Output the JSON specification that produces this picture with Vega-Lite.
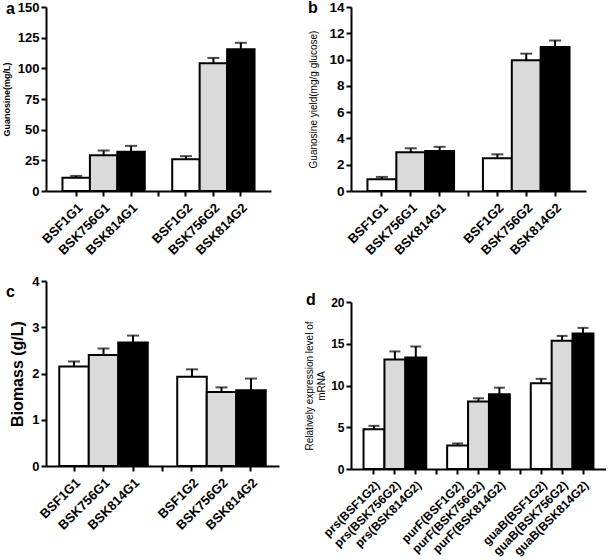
{
  "$schema": "https://vega.github.io/schema/vega-lite/v6.json",
  "padding": {"left": 2, "top": 0, "right": 0, "bottom": 0},
  "spacing": 25,
  "datasets": {
    "a": [
      {"k": "BSF1G1", "v": 10.9, "e": 12.3, "g": "F1"},
      {"k": "BSK756G1", "v": 29.2, "e": 33, "g": "K756"},
      {"k": "BSK814G1", "v": 31.9, "e": 36.8, "g": "K814"},
      {"k": "BSF1G2", "v": 25.9, "e": 28.4, "g": "F1"},
      {"k": "BSK756G2", "v": 104.2, "e": 108.5, "g": "K756"},
      {"k": "BSK814G2", "v": 115.5, "e": 120.8, "g": "K814"}
    ],
    "b": [
      {"k": "BSF1G1", "v": 0.89, "e": 1.07, "g": "F1"},
      {"k": "BSK756G1", "v": 2.95, "e": 3.25, "g": "K756"},
      {"k": "BSK814G1", "v": 3.05, "e": 3.36, "g": "K814"},
      {"k": "BSF1G2", "v": 2.49, "e": 2.79, "g": "F1"},
      {"k": "BSK756G2", "v": 9.95, "e": 10.45, "g": "K756"},
      {"k": "BSK814G2", "v": 10.95, "e": 11.45, "g": "K814"}
    ],
    "c": [
      {"k": "BSF1G1", "v": 2.15, "e": 2.26, "g": "F1"},
      {"k": "BSK756G1", "v": 2.4, "e": 2.54, "g": "K756"},
      {"k": "BSK814G1", "v": 2.67, "e": 2.82, "g": "K814"},
      {"k": "BSF1G2", "v": 1.93, "e": 2.09, "g": "F1"},
      {"k": "BSK756G2", "v": 1.6, "e": 1.7, "g": "K756"},
      {"k": "BSK814G2", "v": 1.64, "e": 1.89, "g": "K814"}
    ],
    "d": [
      {"k": "prs(BSF1G2)", "v": 4.77, "e": 5.17, "g": "F1"},
      {"k": "prs(BSK756G2)", "v": 13.1, "e": 14.08, "g": "K756"},
      {"k": "prs(BSK814G2)", "v": 13.36, "e": 14.67, "g": "K814"},
      {"k": "purF(BSF1G2)", "v": 2.82, "e": 3.06, "g": "F1"},
      {"k": "purF(BSK756G2)", "v": 8.07, "e": 8.47, "g": "K756"},
      {"k": "purF(BSK814G2)", "v": 8.95, "e": 9.74, "g": "K814"},
      {"k": "guaB(BSF1G2)", "v": 10.26, "e": 10.8, "g": "F1"},
      {"k": "guaB(BSK756G2)", "v": 15.35, "e": 15.94, "g": "K756"},
      {"k": "guaB(BSK814G2)", "v": 16.22, "e": 16.9, "g": "K814"}
    ]
  },
  "hconcat": [
    {
      "spacing": 17,
      "vconcat": [
        {
          "data": {"name": "a"},
          "width": 225,
          "height": 184,
          "title": {"text": "a", "anchor": "start", "frame": "group", "dx": -40, "dy": 20},
          "encoding": {
            "x": {"field": "k", "type": "nominal", "sort": null,
                  "scale": {"domain": ["BSF1G1", "BSK756G1", "BSK814G1", "gap1", "BSF1G2", "BSK756G2", "BSK814G2"], "paddingInner": 0, "paddingOuter": 0.6},
                  "axis": {"title": null, "labelFontSize": 13, "labelExpr": "indexof(datum.value, 'gap') == 0 ? '' : datum.value"}},
            "y": {"field": "v", "type": "quantitative",
                  "scale": {"domain": [0, 150], "nice": false},
                  "axis": {"title": "Guanosine(mg/L)", "values": [0, 25, 50, 75, 100, 125, 150], "labelFontSize": 13, "titleFontSize": 9, "titleFontWeight": "bold"}}
          },
          "layer": [
            {"mark": {"type": "bar", "stroke": "black", "strokeWidth": 2},
             "encoding": {"fill": {"field": "g", "type": "nominal", "legend": null,
                                   "scale": {"domain": ["F1", "K756", "K814"], "range": ["white", "#dadada", "black"]}}}},
            {"mark": {"type": "rule", "color": "black", "strokeWidth": 2},
             "encoding": {"y2": {"field": "e"}}},
            {"mark": {"type": "tick", "color": "black", "thickness": 2, "size": 12},
             "encoding": {"y": {"field": "e", "type": "quantitative", "title": "Guanosine(mg/L)"}}}
          ]
        },
        {
          "data": {"name": "c"},
          "width": 233,
          "height": 185,
          "title": {"text": "c", "anchor": "start", "frame": "group", "dx": -40, "dy": 29},
          "encoding": {
            "x": {"field": "k", "type": "nominal", "sort": null,
                  "scale": {"domain": ["BSF1G1", "BSK756G1", "BSK814G1", "gap1", "BSF1G2", "BSK756G2", "BSK814G2"], "paddingInner": 0, "paddingOuter": 0.45},
                  "axis": {"title": null, "labelFontSize": 13, "labelExpr": "indexof(datum.value, 'gap') == 0 ? '' : datum.value"}},
            "y": {"field": "v", "type": "quantitative",
                  "scale": {"domain": [0, 4], "nice": false},
                  "axis": {"title": "Biomass (g/L)", "values": [0, 1, 2, 3, 4], "labelFontSize": 13, "titleFontSize": 16, "titleFontWeight": "bold"}}
          },
          "layer": [
            {"mark": {"type": "bar", "stroke": "black", "strokeWidth": 2},
             "encoding": {"fill": {"field": "g", "type": "nominal", "legend": null,
                                   "scale": {"domain": ["F1", "K756", "K814"], "range": ["white", "#dadada", "black"]}}}},
            {"mark": {"type": "rule", "color": "black", "strokeWidth": 2},
             "encoding": {"y2": {"field": "e"}}},
            {"mark": {"type": "tick", "color": "black", "thickness": 2, "size": 12},
             "encoding": {"y": {"field": "e", "type": "quantitative", "title": "Biomass (g/L)"}}}
          ]
        }
      ]
    },
    {
      "spacing": 34,
      "vconcat": [
        {
          "data": {"name": "b"},
          "width": 235,
          "height": 184,
          "title": {"text": "b", "anchor": "start", "frame": "group", "dx": -43, "dy": 20},
          "encoding": {
            "x": {"field": "k", "type": "nominal", "sort": null,
                  "scale": {"domain": ["BSF1G1", "BSK756G1", "BSK814G1", "gap1", "BSF1G2", "BSK756G2", "BSK814G2"], "paddingInner": 0, "paddingOuter": 0.57},
                  "axis": {"title": null, "labelFontSize": 13, "labelExpr": "indexof(datum.value, 'gap') == 0 ? '' : datum.value"}},
            "y": {"field": "v", "type": "quantitative",
                  "scale": {"domain": [0, 14], "nice": false},
                  "axis": {"title": "Guanosine yield(mg/g glucose)", "values": [0, 2, 4, 6, 8, 10, 12, 14], "labelFontSize": 13.5, "titleFontSize": 10, "titleFontWeight": "normal", "titlePadding": 10}}
          },
          "layer": [
            {"mark": {"type": "bar", "stroke": "black", "strokeWidth": 2},
             "encoding": {"fill": {"field": "g", "type": "nominal", "legend": null,
                                   "scale": {"domain": ["F1", "K756", "K814"], "range": ["white", "#dadada", "black"]}}}},
            {"mark": {"type": "rule", "color": "black", "strokeWidth": 2},
             "encoding": {"y2": {"field": "e"}}},
            {"mark": {"type": "tick", "color": "black", "thickness": 2, "size": 12},
             "encoding": {"y": {"field": "e", "type": "quantitative", "title": "Guanosine yield(mg/g glucose)"}}}
          ]
        },
        {
          "data": {"name": "d"},
          "width": 255,
          "height": 167,
          "title": {"text": "d", "anchor": "start", "frame": "group", "dx": -45, "dy": 16},
          "encoding": {
            "x": {"field": "k", "type": "nominal", "sort": null,
                  "scale": {"domain": ["prs(BSF1G2)", "prs(BSK756G2)", "prs(BSK814G2)", "gap1", "purF(BSF1G2)", "purF(BSK756G2)", "purF(BSK814G2)", "gap2", "guaB(BSF1G2)", "guaB(BSK756G2)", "guaB(BSK814G2)"], "paddingInner": 0, "paddingOuter": 0.6},
                  "axis": {"title": null, "labelFontSize": 12, "labelExpr": "indexof(datum.value, 'gap') == 0 ? '' : datum.value"}},
            "y": {"field": "v", "type": "quantitative",
                  "scale": {"domain": [0, 20], "nice": false},
                  "axis": {"title": ["Relatively expression level of", "mRNA"], "values": [0, 5, 10, 15, 20], "labelFontSize": 12, "titleFontSize": 10, "titleFontWeight": "normal", "titlePadding": 4}}
          },
          "layer": [
            {"mark": {"type": "bar", "stroke": "black", "strokeWidth": 2},
             "encoding": {"fill": {"field": "g", "type": "nominal", "legend": null,
                                   "scale": {"domain": ["F1", "K756", "K814"], "range": ["white", "#dadada", "black"]}}}},
            {"mark": {"type": "rule", "color": "black", "strokeWidth": 2},
             "encoding": {"y2": {"field": "e"}}},
            {"mark": {"type": "tick", "color": "black", "thickness": 2, "size": 11},
             "encoding": {"y": {"field": "e", "type": "quantitative", "title": ["Relatively expression level of", "mRNA"]}}}
          ]
        }
      ]
    }
  ],
  "config": {
    "font": "Liberation Sans",
    "view": {"stroke": null},
    "title": {"fontSize": 16, "fontWeight": "bold", "color": "black", "font": "Liberation Sans", "baseline": "alphabetic", "offset": 0},
    "axis": {
      "grid": false,
      "domainColor": "black",
      "domainWidth": 2,
      "tickColor": "black",
      "tickWidth": 2,
      "tickSize": 5,
      "labelFont": "Liberation Sans",
      "labelFontWeight": "bold",
      "labelFontSize": 12,
      "labelColor": "black",
      "labelPadding": 2,
      "titleColor": "black",
      "titleFont": "Liberation Sans",
      "titlePadding": 6
    },
    "axisX": {"labelAngle": -45, "labelAlign": "right", "labelBaseline": "top", "labelPadding": 5}
  }
}
